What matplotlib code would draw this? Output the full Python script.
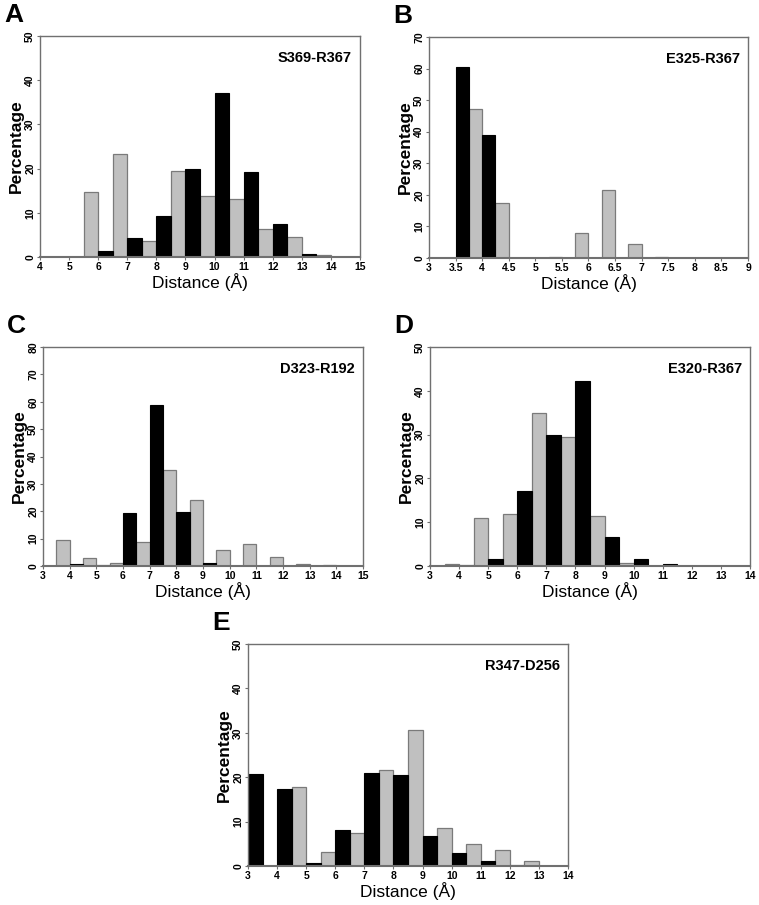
import numpy as np
import matplotlib
matplotlib.use("Agg")
import matplotlib.pyplot as plt

plt.rcParams['font.family'] = ['Liberation Sans', 'DejaVu Sans']

# distance bins (lower edge of each bar pair) and percentages per panel
a_bins = [5.5, 6.5, 7.5, 8.5, 9.5, 10.5, 11.5, 12.5, 13.5]
a_grey = [14.7, 23.4, 3.7, 19.5, 13.7, 13.2, 6.3, 4.6, 0.4]
a_black = [1.3, 4.3, 9.3, 20.0, 37.2, 19.2, 7.5, 0.7, 0.0]

b_bins = [3.5, 4.0, 4.5, 5.0, 5.5, 6.0, 6.5, 7.0, 7.5, 8.0, 8.5]
b_black = [60.5, 39.0, 0, 0, 0, 0, 0, 0, 0, 0, 0]
b_grey = [47.3, 17.5, 0, 0.4, 8.0, 21.5, 4.3, 0.3, 0, 0, 0]

c_bins = [3.5, 4.5, 5.5, 6.5, 7.5, 8.5, 9.5, 10.5, 11.5, 12.5, 13.5]
c_grey = [9.5, 3.0, 1.0, 8.7, 35.0, 24.0, 6.0, 8.0, 3.3, 0.6, 0.2]
c_black = [0.6, 0.2, 19.3, 58.8, 19.6, 1.0, 0, 0, 0, 0, 0]

d_bins = [3.5, 4.5, 5.5, 6.5, 7.5, 8.5, 9.5, 10.5, 11.5, 12.5, 13.5]
d_grey = [0.5, 10.9, 11.8, 35.0, 29.5, 11.5, 0.6, 0, 0, 0, 0]
d_black = [0.2, 1.7, 17.2, 30.0, 42.2, 6.7, 1.5, 0.4, 0, 0, 0]

e_bins = [3, 4, 5, 6, 7, 8, 9, 10, 11, 12, 13]
e_black = [20.8, 17.3, 0.7, 8.1, 21.0, 20.6, 6.8, 2.9, 1.1, 0.3, 0.0]
e_grey = [0.0, 17.9, 3.2, 7.5, 21.7, 30.7, 8.6, 4.9, 3.6, 1.2, 0.1]

W, H = 759, 905
fig = plt.figure(figsize=(W / 100, H / 100), dpi=100)


def px_axes(l, t, r, b):
    return fig.add_axes([l / W, 1 - b / H, (r - l) / W, (b - t) / H])


def panel(box, letter, name, bins, grey, black, grey_first, w, xlim, xstep, ylim, ystep):
    ax = px_axes(*box)
    bins = np.array(bins, dtype=float)
    if grey_first:
        gx, bx = bins, bins + w
    else:
        bx, gx = bins, bins + w
    ax.bar(gx, grey, width=w, align='edge', color='#c0c0c0', edgecolor='#7a7a7a', linewidth=0.9)
    ax.bar(bx, black, width=w, align='edge', color='black', edgecolor='black', linewidth=0.8)
    ax.set_xlim(*xlim)
    ax.set_ylim(*ylim)
    xt = np.arange(xlim[0], xlim[1] + xstep / 2, xstep)
    ax.set_xticks(xt)
    ax.set_xticklabels(['%g' % v for v in xt])
    ax.set_yticks(np.arange(ylim[0], ylim[1] + 1, ystep))
    ax.tick_params(axis='both', labelsize=7.5, length=2, width=0.8, color='#707070', pad=1.5)
    ax.tick_params(axis='y', labelrotation=90)
    for lab in ax.get_xticklabels() + ax.get_yticklabels():
        lab.set_fontweight('bold')
    for lab in ax.get_yticklabels():
        lab.set_va('center')
    for sp in ax.spines.values():
        sp.set_color('#707070')
        sp.set_linewidth(1.0)
    ax.spines['bottom'].set_linewidth(1.5)
    ax.set_ylabel('Percentage', fontsize=12.5, fontweight='bold', labelpad=1)
    ax.set_xlabel('Distance (Å)', fontsize=12.5, labelpad=1)
    ax.text(0.975, 0.9, name, transform=ax.transAxes, ha='right', va='center',
            fontsize=10.5, fontweight='bold')
    fig.text((box[0] - 36) / W, 1 - (box[1] - 21) / H, letter, fontsize=19,
             fontweight='bold', ha='left', va='center')
    return ax


panel((40, 36, 360, 257), 'A', 'S369-R367', a_bins, a_grey, a_black, True, 0.5,
      (4, 15), 1, (0, 50), 10)
panel((429, 37, 748, 258), 'B', 'E325-R367', b_bins, b_grey, b_black, False, 0.25,
      (3, 9), 0.5, (0, 70), 10)
panel((43, 347, 363, 566), 'C', 'D323-R192', c_bins, c_grey, c_black, True, 0.5,
      (3, 15), 1, (0, 80), 10)
panel((430, 347, 750, 566), 'D', 'E320-R367', d_bins, d_grey, d_black, True, 0.5,
      (3, 14), 1, (0, 50), 10)
panel((248, 644, 568, 866), 'E', 'R347-D256', e_bins, e_grey, e_black, False, 0.5,
      (3, 14), 1, (0, 50), 10)

fig.savefig('out.png', dpi=100)
